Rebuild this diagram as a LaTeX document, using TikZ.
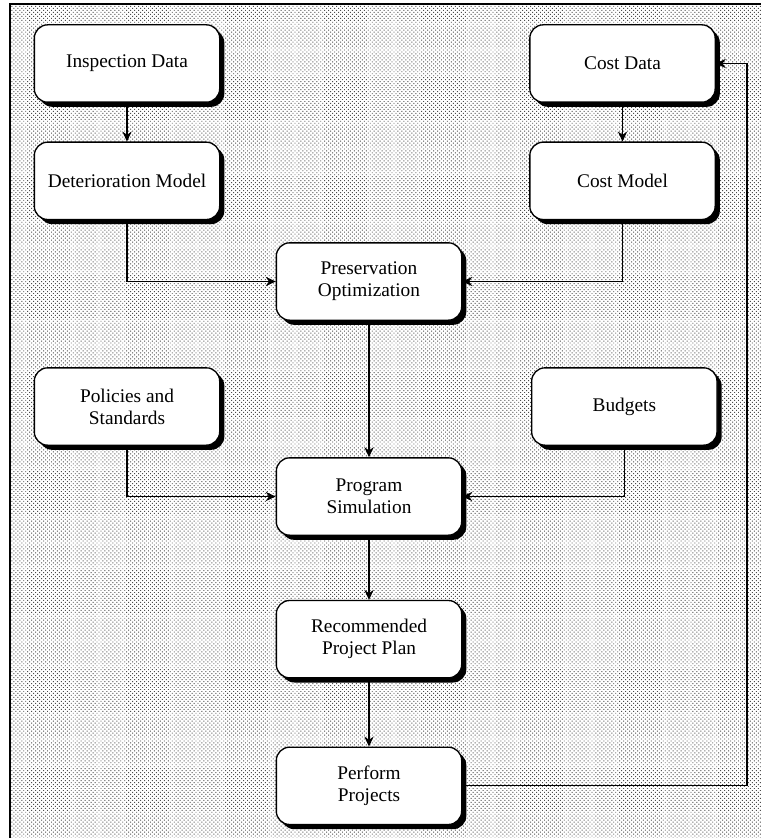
\documentclass[tikz,border=0pt]{standalone}
\usepackage{fontspec}
\setmainfont{Liberation Serif}
\usepackage{tikz}
\usetikzlibrary{arrows.meta, positioning, shadows, patterns.meta}
\tikzset{block/.style={draw, line width=1pt, fill=white, rounded corners=10pt, align=center,
    minimum width=139pt, minimum height=58pt, font=\fontsize{14.5}{16.5}\selectfont,
    drop shadow={shadow xshift=3.5pt, shadow yshift=-3.5pt, fill=black, opacity=1}}}

\begin{document}
\begin{tikzpicture}[x=0.75pt, y=-0.75pt, >={Stealth[length=7.5pt,width=7pt,inset=2.5pt]}, line width=0.8pt]
\useasboundingbox (0,0) rectangle (761,838);
\fill[white] (0,0) rectangle (761,838);
\fill[pattern={Dots[distance=2.1pt, radius=0.5pt, angle=45]}, pattern color=black!70] (10,4) rectangle (761,838);
\draw[line width=1pt] (10,838) -- (10,4) -- (761,4);
\node[block] (insp) at (127,63.5) {Inspection Data};
\node[block, below=29pt of insp] (deter) {Deterioration Model};
\node[block] (costd) at (622.5,63.5) {Cost Data};
\node[block, below=29pt of costd] (costm) {Cost Model};
\node[block] (pres) at (369,281.5) {Preservation\\Optimization};
\node[block] (pol) at (127,406.5) {Policies and\\Standards};
\node[block, right=233pt of pol] (bud) {Budgets};
\node[block] (sim) at (369,496.5) {Program\\Simulation};
\node[block, below=48pt of sim] (rec) {Recommended\\Project Plan};
\node[block, below=51pt of rec] (perf) {Perform\\Projects};
\coordinate (ret) at (747,420);
\draw[->] (insp) -- (deter);
\draw[->] (costd) -- (costm);
\draw[->] (deter.south) |- (pres.west);
\draw[->] (costm.south) |- (pres.east);
\draw[->] (pres) -- (sim);
\draw[->] (pol.south) |- (sim.west);
\draw[->] (bud.south) |- (sim.east);
\draw[->] (sim) -- (rec);
\draw[->] (rec) -- (perf);
\draw[->] (perf.east) -| (ret) |- (costd.east);
\end{tikzpicture}
\end{document}
